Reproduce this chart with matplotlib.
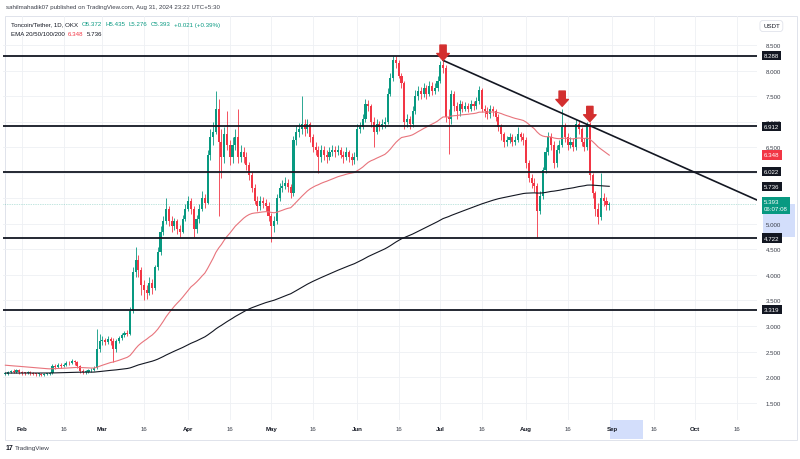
import matplotlib
matplotlib.use('Agg')
import matplotlib.pyplot as plt
import matplotlib.dates as mdates
import matplotlib.transforms as mtransforms
from matplotlib.patches import Rectangle
import numpy as np
import pandas as pd

plt.rcParams['font.family'] = ['Liberation Sans', 'DejaVu Sans']

# daily candles, Jan 26 - Aug 31 2024
dates = pd.date_range('2024-01-26', '2024-08-31', freq='D')
first_open = 2.06

closes = [
    2.07, 2.10, 2.12, 2.11, 2.13, 2.10,  # jan
    2.09, 2.08, 2.10, 2.08, 2.07, 2.06, 2.07, 2.05, 2.06, 2.07, 2.08, 2.22, 2.20, 2.24, 2.21,
    2.24, 2.28, 2.27, 2.31, 2.29, 2.22, 2.12, 2.10, 2.11, 2.13, 2.14, 2.18, 2.55, 2.70,  # feb
    2.72, 2.68, 2.74, 2.70, 2.55, 2.70, 2.76, 2.82, 2.86, 2.85, 3.30, 4.05, 4.30, 4.10, 3.80,
    3.70, 3.65, 3.85, 3.75, 4.15, 4.45, 4.85, 5.05, 5.30, 5.05, 4.95, 5.05, 4.90, 4.85, 5.10, 5.30,  # mar
    5.45, 5.30, 4.90, 5.10, 5.30, 5.50, 5.40, 6.35, 6.70, 6.80, 7.25, 6.60, 6.30, 6.75, 6.55,
    6.30, 6.55, 6.70, 6.30, 6.40, 6.30, 6.15, 5.95, 5.70, 5.45, 5.35, 5.45, 5.40, 5.35, 5.15,  # apr
    4.95, 5.05, 5.50, 5.70, 5.75, 5.80, 5.72, 5.60, 6.65, 6.80, 6.85, 6.95, 6.85, 6.95, 6.70,
    6.50, 6.45, 6.30, 6.45, 6.35, 6.30, 6.40, 6.45, 6.40, 6.45, 6.35, 6.30, 6.40, 6.30, 6.25, 6.30,  # may
    6.85, 6.90, 7.05, 7.35, 7.30, 7.00, 6.80, 6.95, 6.90, 6.95, 7.00, 7.55, 7.85, 8.20, 8.15,
    7.90, 7.75, 7.00, 7.05, 6.95, 7.20, 7.50, 7.60, 7.55, 7.65, 7.55, 7.70, 7.60, 7.65, 7.80,  # jun
    8.10, 8.05, 7.10, 7.05, 7.55, 7.30, 7.20, 7.35, 7.25, 7.30, 7.25, 7.35, 7.30, 7.40, 7.62,
    7.25, 7.20, 7.15, 7.25, 7.20, 7.10, 6.90, 6.75, 6.60, 6.65, 6.70, 6.60, 6.65, 6.75, 6.70, 6.65,  # jul
    6.20, 5.90, 5.80, 5.75, 5.25, 5.55, 6.05, 6.40, 6.70, 6.55, 6.20, 6.45, 6.55, 6.90, 6.70,
    6.55, 6.60, 6.50, 6.95, 6.85, 6.60, 6.50, 6.95, 5.95, 5.60, 5.30, 5.13, 5.50, 5.45, 5.372, 5.393,  # aug
]

highs = [
    2.10, 2.12, 2.14, 2.15, 2.16, 2.15,
    2.12, 2.11, 2.12, 2.12, 2.10, 2.09, 2.09, 2.09, 2.09, 2.09, 2.11, 2.26, 2.26, 2.27, 2.28,
    2.27, 2.31, 2.31, 2.35, 2.34, 2.31, 2.24, 2.15, 2.14, 2.16, 2.17, 2.22, 2.94, 2.85,
    2.80, 2.77, 2.80, 2.78, 2.76, 2.75, 2.80, 2.86, 2.90, 2.92, 3.38, 4.15, 4.55, 4.40, 4.15,
    3.90, 3.80, 3.95, 3.92, 4.20, 4.55, 4.95, 5.15, 5.50, 5.35, 5.15, 5.12, 5.10, 4.98, 5.18, 5.38,
    5.55, 5.50, 5.35, 5.18, 5.38, 5.65, 5.58, 6.45, 6.85, 7.00, 7.60, 7.45, 6.85, 6.90, 7.20,
    6.65, 6.70, 6.85, 7.25, 6.55, 6.50, 6.40, 6.22, 6.02, 5.78, 5.55, 5.55, 5.52, 5.48, 5.42,
    5.22, 5.15, 5.58, 5.80, 5.85, 5.92, 5.88, 5.78, 6.72, 6.92, 6.98, 7.50, 7.05, 7.05, 7.00,
    6.75, 6.60, 6.52, 6.55, 6.52, 6.45, 6.50, 6.55, 6.52, 6.55, 6.50, 6.42, 6.50, 6.45, 6.38, 6.40,
    6.95, 7.00, 7.15, 7.45, 7.42, 7.35, 7.10, 7.05, 7.02, 7.05, 7.10, 7.65, 7.95, 8.29, 8.28,
    8.20, 7.95, 7.80, 7.15, 7.12, 7.30, 7.62, 7.70, 7.68, 7.75, 7.72, 7.80, 7.78, 7.75, 7.90,
    8.18, 8.25, 8.10, 7.25, 7.62, 7.60, 7.38, 7.42, 7.40, 7.38, 7.36, 7.42, 7.40, 7.48, 7.70,
    7.65, 7.32, 7.28, 7.32, 7.30, 7.25, 7.15, 6.95, 6.80, 6.72, 6.78, 6.75, 6.72, 6.90, 6.80, 6.78,
    6.70, 6.25, 5.98, 5.90, 5.80, 5.65, 6.12, 6.50, 6.80, 6.78, 6.62, 6.55, 6.65, 7.25, 6.98,
    6.78, 6.70, 6.68, 7.05, 7.02, 6.90, 6.68, 7.00, 7.00, 6.00, 5.65, 5.40, 6.00, 5.60, 5.52, 5.435,
]

lows = [
    2.04, 2.05, 2.08, 2.08, 2.09, 2.07,
    2.05, 2.05, 2.06, 2.05, 2.04, 2.03, 2.03, 2.02, 2.03, 2.04, 2.05, 2.07, 2.16, 2.18, 2.18,
    2.19, 2.22, 2.24, 2.25, 2.24, 2.18, 2.09, 2.07, 2.07, 2.09, 2.10, 2.12, 2.16, 2.50,
    2.62, 2.62, 2.64, 2.62, 2.30, 2.50, 2.66, 2.72, 2.78, 2.80, 2.82, 3.25, 3.95, 3.95, 3.60,
    3.50, 3.52, 3.60, 3.62, 3.70, 4.10, 4.40, 4.78, 5.00, 4.95, 4.85, 4.88, 4.80, 4.75, 4.82, 5.05,
    5.25, 5.20, 4.75, 4.82, 5.02, 5.25, 5.32, 5.38, 6.25, 6.55, 6.75, 5.15, 5.90, 6.20, 6.45,
    6.15, 6.20, 6.45, 6.20, 6.22, 6.20, 6.05, 5.85, 5.62, 5.38, 5.25, 5.28, 5.32, 5.25, 5.05,
    4.65, 4.85, 5.00, 5.45, 5.62, 5.68, 5.62, 5.50, 5.55, 6.55, 6.70, 6.75, 6.72, 6.78, 6.60,
    6.40, 6.35, 6.00, 6.22, 6.25, 6.20, 6.25, 6.32, 6.30, 6.35, 6.28, 6.20, 6.25, 6.22, 6.15, 6.18,
    6.25, 6.78, 6.85, 7.00, 7.20, 6.90, 6.50, 6.75, 6.82, 6.85, 6.88, 6.95, 7.50, 7.80, 8.05,
    7.85, 7.65, 6.85, 6.90, 6.85, 6.90, 7.15, 7.42, 7.45, 7.48, 7.45, 7.50, 7.52, 7.55, 7.60,
    7.75, 7.95, 7.00, 6.37, 6.95, 7.20, 7.05, 7.12, 7.18, 7.20, 7.18, 7.20, 7.22, 7.25, 7.35,
    7.18, 7.10, 7.05, 7.08, 7.12, 7.02, 6.82, 6.65, 6.50, 6.52, 6.58, 6.52, 6.55, 6.60, 6.62, 6.55,
    6.10, 5.82, 5.70, 5.62, 4.72, 5.20, 5.48, 6.00, 6.35, 6.45, 6.10, 6.12, 6.38, 6.50, 6.60,
    6.45, 6.48, 6.42, 6.45, 6.75, 6.52, 6.42, 6.45, 5.85, 5.50, 5.15, 5.00, 5.08, 5.35, 5.28, 5.276,
]

opens = [first_open] + closes[:-1]

# EMA seeds (value of the lines at the left edge)
ema50_seed = 2.24
ema200_seed = 2.08

# drawn levels / objects
levels = [8.288, 6.912, 6.022, 4.722, 3.319]
trend_dates = ['2024-07-02', '2024-10-24']
trend_prices = [8.20, 5.45]
arrow_dates = ['2024-07-02', '2024-08-14', '2024-08-24']
arrow_tips = [8.20, 7.30, 7.00]

ema50_label = 6.348
ema200_label = 5.736
last_price = 5.393
hidden_ticks = [5.5, 6.0]  # covered by the price tags

GREEN = '#089981'
RED = '#f23645'
DARK = '#131722'
FS = 4.4


def ema(values, span, seed):
    alpha = 2 / (span + 1)
    out, prev = [], seed
    for v in values:
        prev = prev + alpha * (v - prev)
        out.append(prev)
    return out


fig = plt.figure(figsize=(8, 4.6), dpi=100)
W, H = 800, 460
ax = fig.add_axes([3 / W, 1 - 421 / H, 754 / W, (421 - 17) / H])
ax.patch.set_alpha(0)

x = mdates.date2num(dates)
feb1 = mdates.date2num(pd.Timestamp('2024-02-01'))
ax.set_xlim(feb1 - 6.86, feb1 + 265.34)
ax.set_ylim(1.161, 9.068)

# candles
for xi, o, h, l, c in zip(x, opens, highs, lows, closes):
    col = GREEN if c >= o else RED
    ax.vlines(xi, l, h, color=col, lw=0.6, zorder=3)
    body = max(abs(c - o), 0.012)
    ax.bar(xi, body, bottom=min(o, c), width=0.75, color=col, linewidth=0, zorder=3)

ax.plot(x, ema(closes, 50, ema50_seed), color='#e8747c', lw=0.8, zorder=4)
ax.plot(x, ema(closes, 200, ema200_seed), color=DARK, lw=0.8, zorder=4)

for lv in levels:
    ax.axhline(lv, color=DARK, lw=1.3, zorder=5)

ax.axhline(last_price, color=GREEN, lw=0.5, ls=(0, (1, 1.5)), alpha=0.5, zorder=2)

tx = mdates.date2num(pd.to_datetime(trend_dates))
ax.plot(tx, trend_prices, color=DARK, lw=1.2, zorder=5)

for d, tip in zip(arrow_dates, arrow_tips):
    xd = mdates.date2num(pd.Timestamp(d))
    ax.annotate('', xy=(xd, tip), xytext=(0, 11), textcoords='offset points',
                arrowprops=dict(arrowstyle='simple,head_length=0.55,head_width=1.0,tail_width=0.5',
                                color='#d32f2f', mutation_scale=9, shrinkA=0, shrinkB=0),
                zorder=6)

# axes styling
yt = np.arange(1.5, 8.51, 0.5)
ax.set_yticks(yt)
ax.set_yticklabels(['' if any(abs(v - hv) < 1e-9 for hv in hidden_ticks) else f'{v:.3f}' for v in yt])
ax.yaxis.tick_right()
ax.tick_params(axis='y', length=0, pad=6.5, labelsize=FS, labelcolor='#3b3f4a')

months = ['Feb', 'Mar', 'Apr', 'May', 'Jun', 'Jul', 'Aug', 'Sep', 'Oct']
xt, xl = [], []
for i, m in enumerate(months):
    first = pd.Timestamp(2024, i + 2, 1)
    xt += [mdates.date2num(first), mdates.date2num(first + pd.Timedelta(days=15))]
    xl += [m, '16']
ax.set_xticks(xt)
ax.set_xticklabels(xl)
ax.tick_params(axis='x', length=0, pad=4.5, labelsize=FS, labelcolor='#3b3f4a')
for lab in ax.get_xticklabels():
    if lab.get_text() != '16':
        lab.set_color(DARK)
        lab.set_fontweight('bold')

ax.grid(color='#eef0f4', lw=0.6, zorder=0)
ax.set_axisbelow(True)
for s in ax.spines.values():
    s.set_visible(False)

# price axis tags
trans = mtransforms.blended_transform_factory(ax.transAxes, ax.transData)
xa = (764 - 3) / 754
tags = [(lv, DARK) for lv in levels] + [(ema50_label, RED), (ema200_label, DARK)]
for lv, fc in tags:
    ax.text(xa, lv, f'{lv:.3f}', transform=trans, ha='left', va='center', fontsize=FS,
            color='white', clip_on=False, zorder=10,
            bbox=dict(boxstyle='square,pad=0.35', fc=fc, ec='none'))

# highlight boxes (crosshair ranges), drawn beneath the axes texts
fig.patches.append(Rectangle((763 / W, 1 - 238 / H), 32 / W, 33 / H, transform=fig.transFigure,
                             fc='#c9d6fb', ec='none', alpha=0.8, zorder=-1))
fig.patches.append(Rectangle((610 / W, 1 - 440 / H), 33 / W, 19 / H, transform=fig.transFigure,
                             fc='#c9d6fb', ec='none', alpha=0.8, zorder=-1))
ax.annotate(f'{last_price:.3f}\n06:07:08', xy=(xa, last_price), xycoords=trans,
            xytext=(0, 3.2), textcoords='offset points', ha='left', va='top', fontsize=FS,
            color='white', linespacing=1.5, annotation_clip=False, zorder=11,
            bbox=dict(boxstyle='square,pad=0.4', fc=GREEN, ec='none'))

# frame + header
fig.patches.append(Rectangle((5 / W, 1 - 441 / H), 792 / W, 424 / H, transform=fig.transFigure,
                             fill=False, ec='#e0e3eb', lw=0.7, zorder=-1))
fig.text(763 / W, 1 - 27 / H, 'USDT', fontsize=FS, color=DARK, va='center',
         bbox=dict(boxstyle='round,pad=0.5', fc='white', ec='#e0e3eb', lw=0.6))

fig.text(6 / W, 1 - 8 / H, 'sahilmahadik07 published on TradingView.com, Aug 31, 2024 23:22 UTC+5:30',
         fontsize=FS, color='#3b3f4a', va='center')

renderer = fig.canvas.get_renderer()


def text_row(items, x0, y, gap):
    xp = x0
    for t, c in items:
        txt = fig.text(xp / W, 1 - y / H, t, fontsize=FS, color=c, va='center')
        xp += txt.get_window_extent(renderer).width + gap


text_row([('Toncoin/Tether, 1D, OKX', DARK), ('O5.372', GREEN), ('H5.435', GREEN),
          ('L5.276', GREEN), ('C5.393', GREEN), ('+0.021 (+0.39%)', GREEN)], 11, 25, 3.5)
text_row([('EMA 20/50/100/200', DARK), ('6.348', RED), ('5.736', DARK)], 11, 34, 3.5)

fig.text(6 / W, 1 - 449 / H, '17', fontsize=5, color=DARK, fontweight='bold', va='center')
fig.text(15 / W, 1 - 449 / H, 'TradingView', fontsize=4.6, color='#3b3f4a', va='center')

fig.savefig('out.png', dpi=100)
